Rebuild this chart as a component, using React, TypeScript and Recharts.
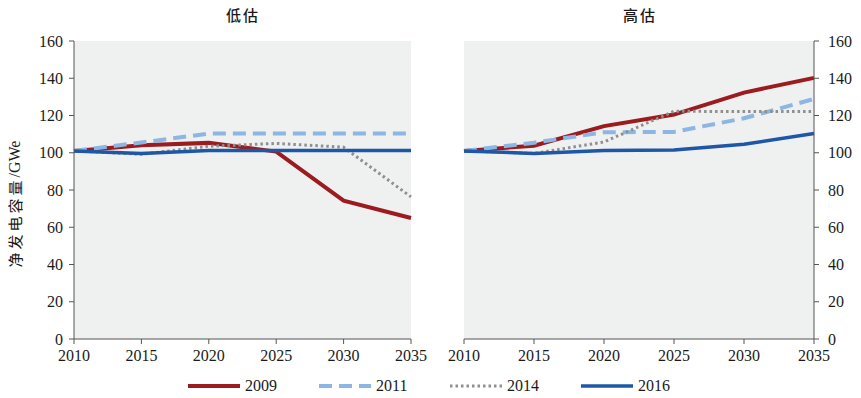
import React from "react";
import { LineChart, Line, XAxis, YAxis, CartesianGrid, Label } from "recharts";

// years on the x axis
const years = [2010, 2015, 2020, 2025, 2030, 2035];
const yTicks = [0, 20, 40, 60, 80, 100, 120, 140, 160];

// 低估 (low case)
const low2009 = [101, 104, 105.3, 100.6, 74.3, 65];
const low2011 = [101, 105.5, 110.3, 110.3, 110.3, 110.3];
const low2014 = [101, 99.2, 103.5, 105, 103, 76.3];
const low2016 = [101, 99.6, 101.2, 101.2, 101.2, 101.2];

// 高估 (high case)
const high2009 = [101, 103.8, 114.3, 120.5, 132.3, 140.2];
const high2011 = [101, 105.4, 111, 111.2, 118.5, 128.9];
const high2014 = [101, 99.6, 105.8, 122.3, 122.1, 122.1];
const high2016 = [101, 99.6, 101.2, 101.5, 104.6, 110.3];

const series = [
  { key: "s2009", name: "2009", color: "#9b1b1f", width: 4, dash: undefined as string | undefined },
  { key: "s2011", name: "2011", color: "#8db6e3", width: 4, dash: "13 7" },
  { key: "s2014", name: "2014", color: "#8f8f8f", width: 3, dash: "2.5 3" },
  { key: "s2016", name: "2016", color: "#1d57a6", width: 3.5, dash: undefined as string | undefined },
];

function makeRows(a: number[], b: number[], c: number[], d: number[]) {
  return years.map((year, i) => ({ year, s2009: a[i], s2011: b[i], s2014: c[i], s2016: d[i] }));
}

const lowRows = makeRows(low2009, low2011, low2014, low2016);
const highRows = makeRows(high2009, high2011, high2014, high2016);

const serif = '"Liberation Serif", "DejaVu Serif", serif';
const cjk = '"Noto Sans CJK SC", sans-serif';
const tickStyle = { fill: "#1a1a1a", fontSize: 16, fontFamily: serif };
const axisColor = "#555";

function Panel({ rows, side }: { rows: any[]; side: "left" | "right" }) {
  const isLeft = side === "left";
  return (
    <LineChart
      width={isLeft ? 430 : 431}
      height={370}
      data={rows}
      margin={{ top: 41, bottom: 1, left: 34, right: isLeft ? 19 : 7 }}
    >
      <CartesianGrid fill="#eff0f0" horizontal={false} vertical={false} />
      <XAxis
        dataKey="year"
        type="number"
        domain={[2010, 2035]}
        ticks={years}
        height={30}
        stroke={axisColor}
        tickSize={5}
        tickMargin={6}
        tick={tickStyle}
        interval={0}
      />
      <YAxis
        orientation={isLeft ? "left" : "right"}
        domain={[0, 160]}
        ticks={yTicks}
        width={40}
        stroke={axisColor}
        tickSize={5}
        tickMargin={isLeft ? 6 : 9}
        tick={tickStyle}
        interval={0}
      >
        {isLeft && (
          <Label
            content={() => (
              <text
                x={14}
                y={204}
                transform="rotate(-90 14 204)"
                textAnchor="middle"
                dominantBaseline="central"
                fill="#1a1a1a"
                fontSize={15}
              >
                <tspan fontFamily={cjk} letterSpacing={3}>净发电容量</tspan>
                <tspan fontFamily={serif} fontSize={16}>/GWe</tspan>
              </text>
            )}
          />
        )}
      </YAxis>
      {series.map((s) => (
        <Line
          key={s.key}
          dataKey={s.key}
          name={s.name}
          type="linear"
          stroke={s.color}
          strokeWidth={s.width}
          strokeDasharray={s.dash}
          dot={false}
          activeDot={false}
          isAnimationActive={false}
        />
      ))}
    </LineChart>
  );
}

function LegendRow() {
  return (
    <div style={{ position: "absolute", left: 188, top: 376, display: "flex", height: 20 }}>
      {series.map((s) => (
        <div key={s.key} style={{ display: "flex", alignItems: "center", width: 131 }}>
          <svg width={54} height={10}>
            <line
              x1={0}
              y1={5}
              x2={52}
              y2={5}
              stroke={s.color}
              strokeWidth={s.width}
              strokeDasharray={s.dash}
            />
          </svg>
          <span style={{ fontFamily: serif, fontSize: 16, color: "#1a1a1a", marginLeft: 3 }}>{s.name}</span>
        </div>
      ))}
    </div>
  );
}

export default function App() {
  const titleStyle: React.CSSProperties = {
    position: "absolute",
    top: 4,
    fontFamily: cjk,
    fontSize: 15,
    fontWeight: 500,
    color: "#1a1a1a",
    width: 100,
    textAlign: "center",
    letterSpacing: 2,
  };
  return (
    <div style={{ position: "absolute", left: 0, top: 0, width: 861, height: 398, background: "#fff" }}>
      <div style={{ ...titleStyle, left: 193 }}>低估</div>
      <div style={{ ...titleStyle, left: 590 }}>高估</div>
      <div style={{ position: "absolute", left: 0, top: 0 }}>
        <Panel rows={lowRows} side="left" />
      </div>
      <div style={{ position: "absolute", left: 430, top: 0 }}>
        <Panel rows={highRows} side="right" />
      </div>
      <LegendRow />
    </div>
  );
}
